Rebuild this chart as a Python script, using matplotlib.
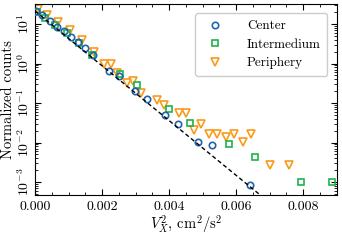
import matplotlib
matplotlib.use("Agg")
import matplotlib.pyplot as plt
from matplotlib.ticker import MultipleLocator, LogLocator, NullFormatter

plt.rcParams['font.family'] = 'serif'
plt.rcParams['font.serif'] = ['cmr10']
plt.rcParams['mathtext.fontset'] = 'cm'
plt.rcParams['axes.formatter.use_mathtext'] = True
plt.rcParams['axes.unicode_minus'] = False

center_x = [0.045e-3, 0.21e-3, 0.45e-3, 0.66e-3, 0.87e-3, 1.08e-3, 1.29e-3, 1.50e-3, 1.74e-3,
            2.22e-3, 2.50e-3, 2.97e-3, 3.35e-3, 3.87e-3, 4.27e-3, 4.86e-3, 5.28e-3, 6.42e-3]
center_y = [21.3, 16.9, 11.9, 8.4, 6.65, 4.69, 3.50, 2.47, 1.64,
            0.665, 0.483, 0.201, 0.124, 0.0489, 0.0294, 0.0105, 0.00864, 0.000865]

inter_x = [0.06e-3, 0.30e-3, 0.60e-3, 0.96e-3, 1.32e-3, 1.70e-3, 2.53e-3, 3.05e-3, 3.99e-3,
           4.62e-3, 5.80e-3, 6.57e-3, 7.95e-3, 8.85e-3]
inter_y = [20.1, 14.2, 9.4, 5.9, 3.3, 1.64, 0.542, 0.286, 0.0705,
           0.0306, 0.00916, 0.00437, 0.00102, 0.00102]

peri_x = [0.09e-3, 0.36e-3, 0.69e-3, 1.05e-3, 1.41e-3, 1.75e-3, 2.05e-3, 2.27e-3, 2.45e-3,
          2.75e-3, 2.93e-3, 3.17e-3, 3.63e-3, 3.84e-3, 4.30e-3, 4.50e-3, 4.73e-3, 4.95e-3,
          5.20e-3, 5.44e-3, 5.70e-3, 5.95e-3, 6.21e-3, 6.45e-3, 7.02e-3, 7.58e-3]
peri_y = [24.0, 16.9, 11.2, 7.05, 3.94, 1.99, 0.97, 0.954, 0.585,
          0.315, 0.361, 0.182, 0.119, 0.0916, 0.0548, 0.0548, 0.0207, 0.0294,
          0.0160, 0.0160, 0.0142, 0.0160, 0.0105, 0.0160, 0.00269, 0.00269]

fit_x = [0.0, 0.00672]
fit_y = [21.4, 4.7e-4]

labels = ['Center', 'Intermedium', 'Periphery']
colors = ['#1f64ad', '#1db34a', '#f99a1c']

fig = plt.figure(figsize=(3.42, 2.40), dpi=100)
ax = fig.add_axes([0.1023, 0.1875, 0.882, 0.7955])

ms = 4.6
mew = 1.2
ax.plot(center_x, center_y, 'o', mfc='none', mec=colors[0], ms=ms, mew=mew, label=labels[0], zorder=4)
ax.plot(inter_x, inter_y, 's', mfc='none', mec=colors[1], ms=ms, mew=mew, label=labels[1], zorder=3)
ax.plot(peri_x, peri_y, 'v', mfc='none', mec=colors[2], ms=ms + 0.6, mew=mew, label=labels[2], zorder=2)
ax.plot(fit_x, fit_y, '--', color='black', lw=1.0, dashes=(3, 2), zorder=5)

ax.set_yscale('log')
ax.set_xlim(0, 0.009)
ax.set_ylim(4.7e-4, 32)

ax.xaxis.set_major_locator(MultipleLocator(0.002))
ax.xaxis.set_minor_locator(MultipleLocator(0.0005))
ax.xaxis.set_major_formatter(matplotlib.ticker.FormatStrFormatter('%.3f'))
ax.yaxis.set_major_locator(LogLocator(base=10, numticks=10))
ax.yaxis.set_minor_locator(LogLocator(base=10, subs=range(2, 10), numticks=20))
ax.yaxis.set_minor_formatter(NullFormatter())

ax.tick_params(which='both', direction='in', top=True, right=True, labelsize=10)
ax.tick_params(which='major', length=4, width=0.8)
ax.tick_params(which='minor', length=2, width=0.6)
ax.tick_params(axis='y', which='major', pad=2)
ax.tick_params(axis='x', which='major', pad=4)
for lab in ax.get_yticklabels():
    lab.set_rotation(90)
    lab.set_va('center')
    lab.set_ha('right')

ax.set_xlabel(r'$V_X^2$, cm$^2$/s$^2$', fontsize=10.5, labelpad=1)
ax.set_ylabel('Normalized counts', fontsize=10.5, labelpad=1)

leg = ax.legend(loc='upper right', fontsize=9.5, frameon=True, fancybox=True,
                edgecolor='#cccccc', framealpha=1.0, handlelength=2.0,
                handletextpad=1.4, borderpad=0.5, labelspacing=0.48,
                borderaxespad=0.7)

fig.savefig('out.png', dpi=100)
